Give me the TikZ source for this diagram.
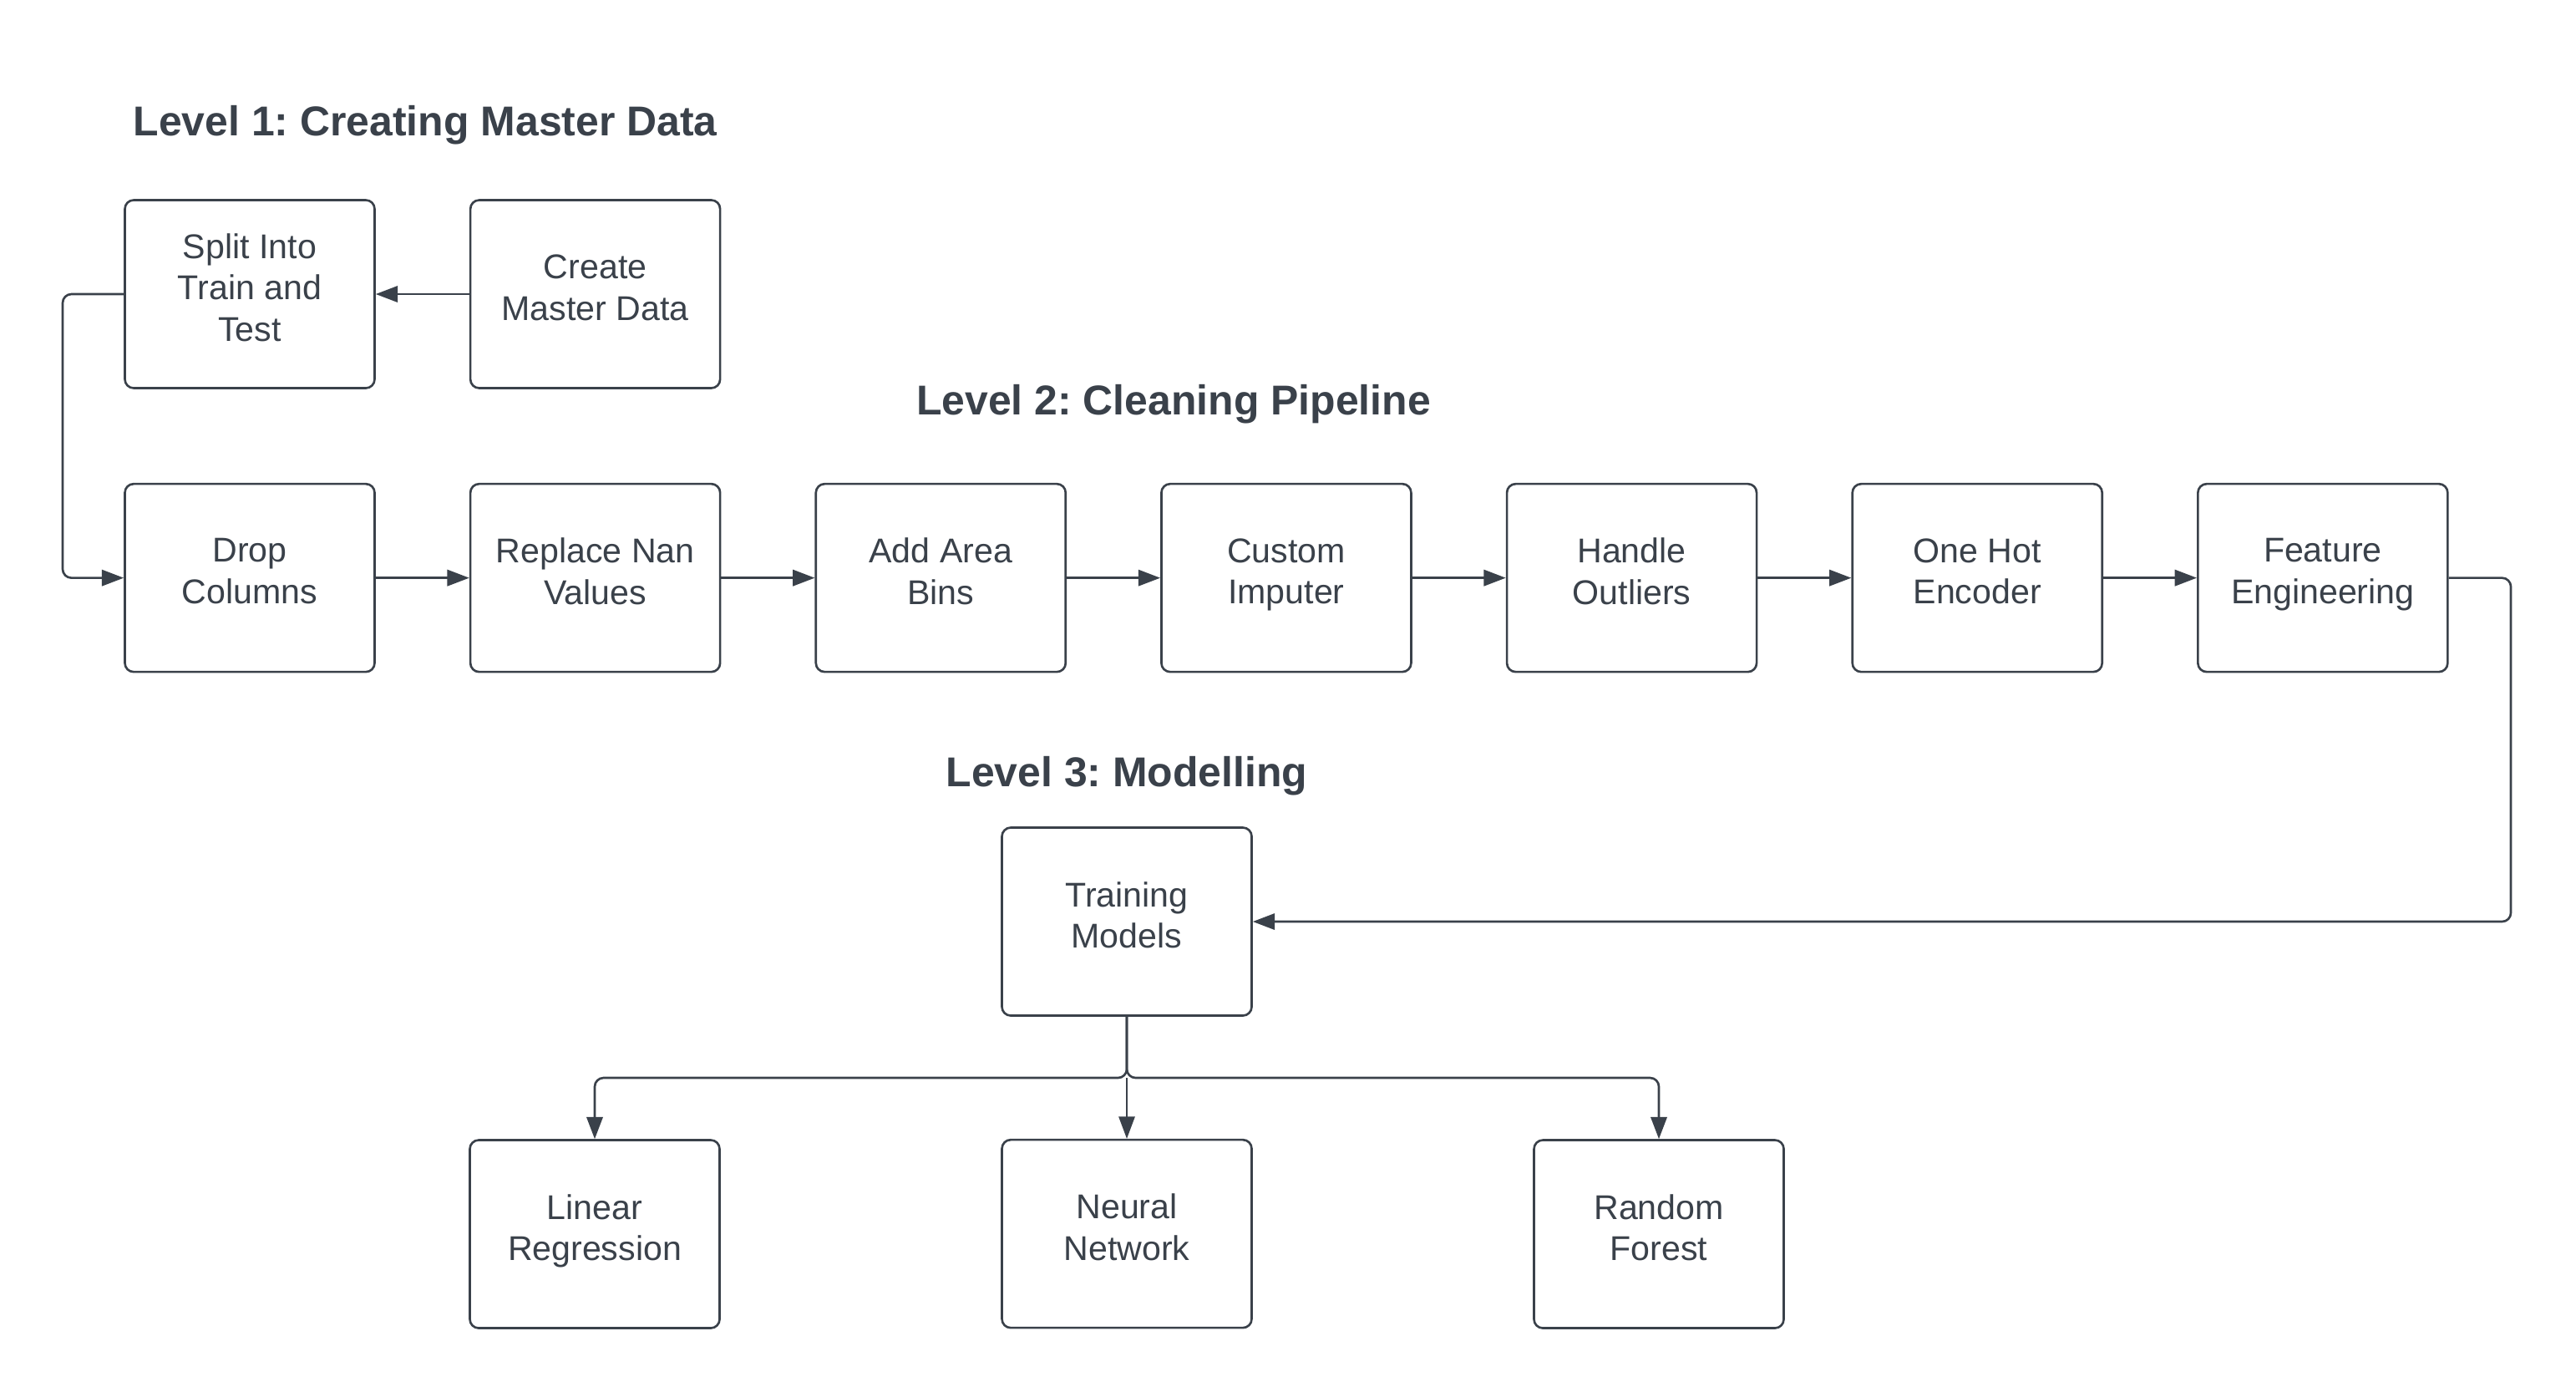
\documentclass[tikz,border=0pt]{standalone}
\usepackage{fontspec}
\setmainfont{Liberation Sans}
\usetikzlibrary{positioning,arrows.meta}
\definecolor{inkgray}{HTML}{3A414A}
\frenchspacing

\begin{document}
\begin{tikzpicture}[ every node/.style = {text = inkgray},
    step box/.style = {draw = inkgray, line width = 0.75pt,
      rounded corners = 3pt, fill = white, align = center,
      minimum width = 2.99cm, minimum height = 2.25cm,
      font = \fontsize{11.7}{14.1}\selectfont,
      execute at begin node = \strut,
      execute at end node = {\rule[-4.6pt]{0pt}{1pt}}},
    level title/.style = {font = \fontsize{14.2}{17}\selectfont\bfseries,
      inner sep = 0pt},
    flow/.style = {draw = inkgray, line width = 0.75pt, rounded corners = 3pt,
      -{Triangle[length=7.5pt,width=5.5pt]}},
    node distance = 1.12cm
  ]
  \useasboundingbox (0,0) rectangle (30.84,-16.65);

  % level 1
  \node[level title, anchor=west] (title1) at (1.59,-1.50) {Level 1: Creating Master Data};
  \node[step box] (split) at (2.99,-3.52) {Split Into\\Train and\\Test};
  \node[step box, right=of split] (master) {Create\\Master Data};

  % level 2
  \node[level title] (title2) at (14.05,-4.84) {Level 2: Cleaning Pipeline};
  \node[step box, below=of split] (drop) {Drop\\Columns};
  \node[step box, right=of drop] (nan) {Replace Nan\\Values};
  \node[step box, right=of nan] (bins) {Add Area\\Bins};
  \node[step box, right=of bins] (imputer) {Custom\\Imputer};
  \node[step box, right=of imputer] (outliers) {Handle\\Outliers};
  \node[step box, right=of outliers] (onehot) {One Hot\\Encoder};
  \node[step box, right=of onehot] (feature) {Feature\\Engineering};

  % level 3
  \node[level title] (title3) at (13.49,-9.29) {Level 3: Modelling};
  \node[step box] (train) at (13.49,-11.03) {Training\\Models};
  \node[step box, below=1.46cm of train] (neural) {Neural\\Network};
  \node[step box] (linear) at (7.12,-14.77) {Linear\\Regression};
  \node[step box] (forest) at (19.86,-14.77) {Random\\Forest};

  \coordinate (loopleft) at (0.75,0);
  \coordinate (loopright) at (30.06,0);
  \coordinate (fork) at (13.49,-12.90);

  \draw[flow] (master) -- (split);
  \draw[flow] (split.west) -- (split.west -| loopleft) |- (drop.west);
  \draw[flow] (drop) -- (nan);
  \draw[flow] (nan) -- (bins);
  \draw[flow] (bins) -- (imputer);
  \draw[flow] (imputer) -- (outliers);
  \draw[flow] (outliers) -- (onehot);
  \draw[flow] (onehot) -- (feature);
  \draw[flow] (feature.east) -- (feature.east -| loopright) |- (train.east);
  \draw[flow] (train.south) -- (fork) -| (linear.north);
  \draw[flow] (train.south) -- (fork) -| (forest.north);
  \draw[flow, line width=0.4pt] (fork) -- (neural.north);
\end{tikzpicture}
\end{document}
